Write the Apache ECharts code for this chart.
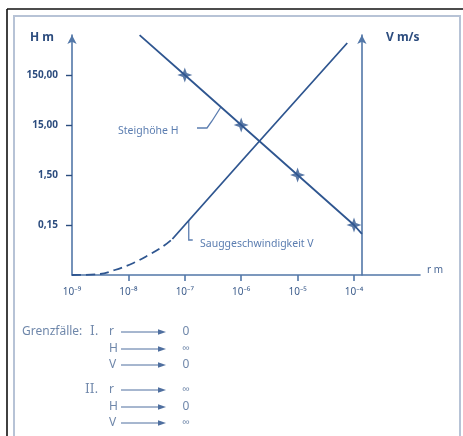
<!DOCTYPE html>
<html><head><meta charset="utf-8">
<script src="https://cdn.jsdelivr.net/npm/echarts@6/dist/echarts.min.js"></script>
<style>html,body{margin:0;padding:0;background:#fff}#c{width:463px;height:436px}</style>
</head><body><div id="c"></div>
<script>
// ---- data (r in metres, H in metres, V in unlabeled axis units) ----
const xTickExp = [-9, -8, -7, -6, -5, -4];
const xTickLabels = ['10⁻⁹', '10⁻⁸', '10⁻⁷', '10⁻⁶', '10⁻⁵', '10⁻⁴'];
const yTickValues = [0.15, 1.5, 15, 150];
const yTickLabels = ['0,15', '1,50', '15,00', '150,00'];
const hLineR = [1.58e-8, 1e-7, 1e-6, 1e-5, 1e-4, 1.38e-4];
const hLineH = [940, 150, 15, 1.5, 0.15, 0.1];
const hStarR = [1e-7, 1e-6, 1e-5, 1e-4];
const hStarH = [150, 15, 1.5, 0.15];
const vDashR = [1e-9, 3.16e-9, 5.75e-9, 1.23e-8, 2.29e-8, 3.98e-8, 6.03e-8];
const vDashV = [0, 0.02, 0.1, 0.24, 0.4, 0.56, 0.72];
const vSolidR = [6.03e-8, 1e-7, 1e-6, 1e-5, 7.59e-5];
const vSolidV = [0.72, 1.0, 2.27, 3.53, 4.64];
const caseLabels = ['I.', 'II.'];
const caseRows = [[['r', '0'], ['H', '∞'], ['V', '0']], [['r', '∞'], ['H', '0'], ['V', '∞']]];

// ---- layout ----
const L = Math.log10;
const gridL = 72, gridR = 43, gridT = 35, gridB = 161;
const pxPerDecX = 56.4, pxPerDecY = 50;
const plotW = 463 - gridL - gridR, plotH = 436 - gridT - gridB;
const xMin = -9, xMax = xMin + plotW / pxPerDecX;
const yMin = L(0.015), yMax = yMin + plotH / pxPerDecY;
const vMin = 0, vMax = plotH / pxPerDecY;

const C_LINE = '#2f5690', C_AXIS = '#5277a8', C_LAB = '#2c4c7e', C_ANN = '#5b7db0', C_GF = '#6f87aa';
const FONT = '"Noto Sans", "Open Sans", sans-serif';

const zip = (a, b, fy) => a.map((v, i) => [L(v), fy ? fy(b[i]) : b[i]]);
const nearestIdx = (arr, v) => { let bi = 0; arr.forEach((a, i) => { if (Math.abs(a - v) < Math.abs(arr[bi] - v)) bi = i; }); return bi; };

const chart = echarts.init(document.getElementById('c'), null, {renderer: 'canvas'});
const star = 'path://M0,-10 L2.6,-2.6 L10,0 L2.6,2.6 L0,10 L-2.6,2.6 L-10,0 L-2.6,-2.6 Z';

chart.setOption({
  animation: false,
  backgroundColor: '#fff',
  grid: {left: gridL, right: gridR, top: gridT, bottom: gridB, containLabel: false},
  xAxis: {
    type: 'value', min: xMin, max: xMax,
    axisLine: {show: true, onZero: false, lineStyle: {color: C_AXIS, width: 1.6}},
    axisTick: {show: true, customValues: xTickExp.slice(1), length: 6, lineStyle: {color: C_AXIS, width: 1.6}},
    axisLabel: {customValues: xTickExp, margin: 12, fontSize: 10, color: '#3d5d8c', fontFamily: FONT,
      formatter: v => xTickLabels[nearestIdx(xTickExp, v)]},
    splitLine: {show: false}
  },
  yAxis: [{
    type: 'value', position: 'left', min: yMin, max: yMax,
    axisLine: {show: true, onZero: false, symbol: ['none', 'arrow'], symbolSize: [7, 9], lineStyle: {color: C_AXIS, width: 1.6}},
    axisTick: {show: true, customValues: yTickValues.map(L), length: 6, lineStyle: {color: C_LAB, width: 1.4}},
    axisLabel: {customValues: yTickValues.map(L), margin: 14, fontSize: 10, fontWeight: 'bold', color: C_LAB, fontFamily: FONT,
      formatter: v => yTickLabels[nearestIdx(yTickValues.map(L), v)]},
    splitLine: {show: false}
  }, {
    type: 'value', position: 'right', offset: -(plotW - (L(1.38e-4) - xMin) * pxPerDecX), min: vMin, max: vMax,
    axisLine: {show: true, onZero: false, symbol: ['none', 'arrow'], symbolSize: [7, 9], lineStyle: {color: C_AXIS, width: 1.6}},
    axisTick: {show: false}, axisLabel: {show: false}, splitLine: {show: false}
  }],
  series: [
    {type: 'line', name: 'Steighöhe H', xAxisIndex: 0, yAxisIndex: 0, data: zip(hLineR, hLineH, L),
      symbol: 'none', lineStyle: {color: C_LINE, width: 1.8}, silent: true},
    {type: 'scatter', xAxisIndex: 0, yAxisIndex: 0, data: zip(hStarR, hStarH, L),
      symbol: star, symbolSize: 15, itemStyle: {color: C_LINE}, silent: true},
    {type: 'line', xAxisIndex: 0, yAxisIndex: 1, data: zip(vDashR, vDashV), smooth: 0.35,
      symbol: 'none', lineStyle: {color: C_LINE, width: 1.8, type: [9, 5]}, silent: true},
    {type: 'line', name: 'Sauggeschwindigkeit V', xAxisIndex: 0, yAxisIndex: 1, data: zip(vSolidR, vSolidV),
      symbol: 'none', lineStyle: {color: C_LINE, width: 1.8}, silent: true}
  ]
});

// anchors for leader lines, read through the chart's own scales
const aH = chart.convertToPixel({seriesIndex: 0}, [-6.36, L(34.4)]);
const aV = chart.convertToPixel({seriesIndex: 3}, [-6.93, 1.09]);

const g = [];
// frames
g.push({type: 'rect', shape: {x: 14, y: 16, width: 446, height: 440}, style: {fill: 'none', stroke: '#b7c3d6', lineWidth: 2}, z: 0});
g.push({type: 'line', shape: {x1: 7, y1: 9, x2: 463, y2: 9}, style: {stroke: '#111', lineWidth: 1.6}});
g.push({type: 'line', shape: {x1: 7, y1: 9, x2: 7, y2: 436}, style: {stroke: '#111', lineWidth: 1.6}});
// axis titles
g.push({type: 'text', x: 30, y: 38, style: {text: 'H m', fill: C_LAB, font: 'bold 12px ' + FONT, verticalAlign: 'middle'}});
g.push({type: 'text', x: 386, y: 38, style: {text: 'V m/s', fill: C_LAB, font: 'bold 12px ' + FONT, verticalAlign: 'middle'}});
g.push({type: 'text', x: 427, y: 270, style: {text: 'r m', fill: '#4a6896', font: '10px ' + FONT, verticalAlign: 'middle'}});
// annotations
g.push({type: 'text', x: 118, y: 131, style: {text: 'Steighöhe H', fill: C_ANN, font: '10.5px ' + FONT, verticalAlign: 'middle'}});
g.push({type: 'polyline', shape: {points: [[197, 128], [207, 128], [212, 121], aH]}, style: {stroke: C_ANN, lineWidth: 1.3, fill: 'none'}});
g.push({type: 'text', x: 200, y: 244, style: {text: 'Sauggeschwindigkeit V', fill: C_ANN, font: '10.5px ' + FONT, verticalAlign: 'middle'}});
g.push({type: 'polyline', shape: {points: [aV, [aV[0], 240], [aV[0] + 4, 240]]}, style: {stroke: C_ANN, lineWidth: 1.3, fill: 'none'}});
// Grenzfälle block
const rowY = [332, 349, 365, 390, 407, 423];
g.push({type: 'text', x: 22, y: rowY[0], style: {text: 'Grenzfälle:', fill: C_GF, font: '12px ' + FONT, verticalAlign: 'middle'}});
caseLabels.forEach((c, ci) => {
  g.push({type: 'text', x: ci === 0 ? 90 : 85, y: rowY[ci * 3], style: {text: c, fill: C_GF, font: '12px "DejaVu Serif", serif', verticalAlign: 'middle'}});
  caseRows[ci].forEach((row, ri) => {
    const y = rowY[ci * 3 + ri];
    g.push({type: 'text', x: 109, y: y, style: {text: row[0], fill: C_GF, font: '12px ' + FONT, verticalAlign: 'middle'}});
    g.push({type: 'line', shape: {x1: 121, y1: y, x2: 160, y2: y}, style: {stroke: '#4f6f9f', lineWidth: 1}});
    g.push({type: 'polygon', shape: {points: [[158, y - 2.8], [166, y], [158, y + 2.8]]}, style: {fill: '#4f6f9f'}});
    g.push({type: 'text', x: 186, y: y, style: {text: row[1], fill: C_GF, font: (row[1] === '∞' ? '11px ' : '12px ') + FONT, align: 'center', verticalAlign: 'middle'}});
  });
});
chart.setOption({graphic: g});
</script></body></html>
